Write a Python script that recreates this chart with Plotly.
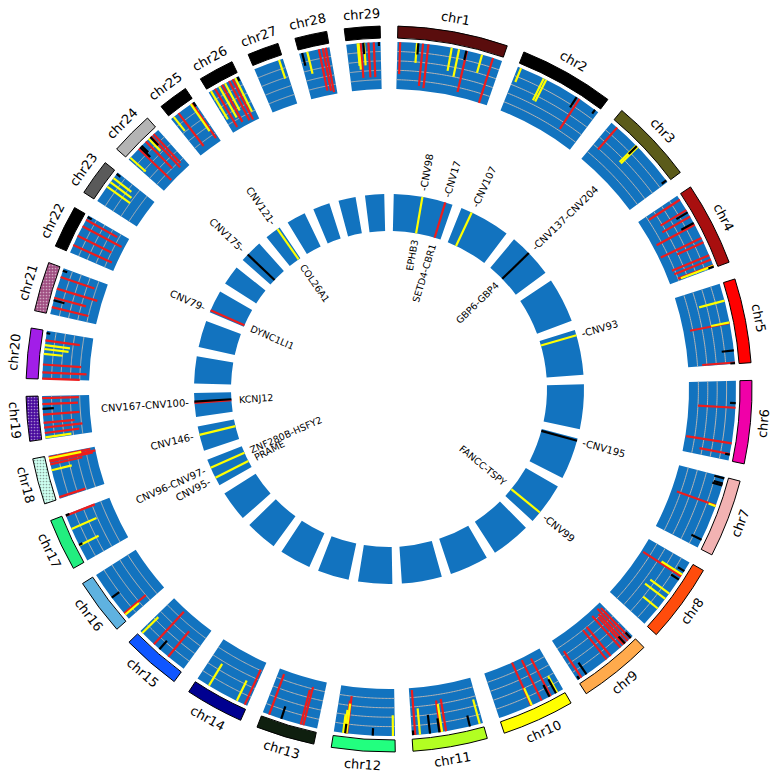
import numpy as np
import plotly.graph_objects as go

# ---------------- data ----------------
chrom_names = ['chr%d' % i for i in range(1, 30)]
chrom_len = [158, 137, 121, 120, 121, 119, 112, 113, 105, 104, 107, 91, 84, 84, 85,
             81, 75, 66, 64, 72, 71, 61, 52, 62, 43, 51, 45, 46, 51]
ideo_colors = ['#5a0d0d', '#000000', '#5b5b1a', '#a80f0f', '#ff0000', '#f000a8', '#f2b2b2',
               '#ff4c0c', '#ffaa4c', '#ffff00', '#b2ff22', '#22ff7f', '#0f1f0f', '#000090',
               '#0f56ff', '#5fb2e0', '#22ee7f', '#ccfff0', '#4a0c9e', '#a21ee8', '#a04f82',
               '#000000', '#5a5a5a', '#b4b4b4', '#000000', '#000000', '#000000', '#000000',
               '#000000']
ideo_dot_color = ['', '', '', '', '', '', '', '', '', '', '', '', '', '', '', '', '',
                  '#60c0a0', '#9060d0', '', '#c080a0', '', '', '', '', '', '', '', '']

# CNV marks in the middle track: chromosome, position (Mb), inner end (0-5 scale), colour
mark_chr = ([1]*11 + [2]*6 + [3]*5 + [4]*13 + [5]*6 + [6]*5 + [7]*6 + [8]*7 + [9]*12 +
            [10]*7 + [11]*10 + [12]*8 + [13]*4 + [14]*3 + [15]*4 + [16]*3 + [17]*5 +
            [18]*7 + [19]*8 + [20]*8 + [21]*6 + [22]*5 + [23]*4 + [24]*9 + [25]*5 +
            [26]*9 + [27]*1 + [28]*5 + [29]*8)
mark_pos = [4, 29, 31, 38, 46, 81, 92, 103, 104, 127, 144,
            5, 42, 46, 98, 103, 131,
            11, 50, 53, 51, 118,
            7, 25, 29, 36, 47, 50, 72, 79, 100, 107, 116, 117, 118,
            26, 59, 60, 101, 119, 120,
            33, 40, 93, 109, 110,
            2, 10, 13, 44, 45, 99,
            15, 21, 24, 30, 55, 65, 83,
            4, 5, 10, 15, 16, 19, 25, 44, 52, 89, 98, 102,
            10, 12, 21, 23, 36, 52, 53,
            5, 20, 56, 62, 64, 66, 80, 95, 102, 105,
            3, 33, 71, 72, 73, 74, 75, 77,
            21, 25, 55, 74,
            4, 17, 64,
            29, 46, 57, 81,
            8, 10.5, 40,
            25, 26, 52, 73.5, 74,
            2.6, 44, 53, 57, 59.5, 62, 63.5,
            2.5, 9, 17, 24, 36.5, 45, 52, 61,
            0.5, 10, 21.6, 37.4, 44.6, 50.4, 57.6, 68.4,
            10.6, 21, 25, 39, 57, 67,
            12, 27, 43, 54, 58.5,
            26, 34, 41.6, 49.4,
            3.7, 22, 25, 28, 37, 43, 46.5, 48, 53,
            5, 14, 36.5, 38.7, 41,
            4, 11, 18, 23, 28, 34.7, 40.8, 45, 48.5,
            39,
            4.6, 12.4, 30, 36, 40.5,
            17, 18.4, 21.4, 25.5, 26.5, 33, 41, 48.5]
mark_low = [1.6, 2.9, 3.8, 0.5, 0.3, 2.5, 2.0, 4.0, 0.5, 3.0, 0.0,
            3.4, 2.4, 2.4, 3.7, 1.2, 4.5,
            1.9, 2.5, 2.5, 3.8, 4.4,
            1.1, 1.8, 3.6, 1.6, 3.5, 0.4, 0.2, 1.9, 0.7, 0.8, 1.0, 1.3, 4.4,
            2.2, 3.0, 0.7, 3.7, 1.5, 4.5,
            4.4, 1.0, 0.1, 1.7, 4.5,
            3.9, 4.0, 3.9, 0.6, 4.2, 3.8,
            4.2, 2.4, 0.2, 4.0, 2.5, 2.3, 3.0,
            4.2, 0.5, 0.3, 0.8, 4.0, 1.0, 0.5, 1.0, 1.0, 3.5, 1.6, 4.6,
            3.0, 3.3, 0.5, 3.6, 0.2, 3.0, 0.0,
            2.3, 3.8, 1.5, 2.0, 1.6, 3.5, 3.0, 2.2, 0.2, 4.5,
            2.8, 4.2, 1.0, 1.8, 1.5, 4.0, 2.5, 3.0,
            0.8, 1.2, 3.6, 0.4,
            0.9, 2.6, 2.3,
            1.5, 3.8, 0.3, 2.6,
            3.1, 2.0, 4.0,
            2.7, 4.6, 2.1, 1.7, 4.6,
            2.1, 2.8, 1.5, 0.3, 0.0, 1.5, 0.5,
            2.2, 1.3, 0.9, 1.7, 1.1, 3.8, 1.2, 1.1,
            1.0, 0.3, 0.9, 3.0, 2.4, 2.3, 1.3, 4.6,
            1.0, 3.8, 1.5, 0.5, 1.2, 4.5,
            0.5, 1.0, 0.3, 1.2, 4.5,
            2.0, 2.2, 2.6, 4.5,
            2.8, 0.2, 3.5, 4.0, 1.0, 3.2, 3.8, 0.5, 0.8,
            3.1, 0.6, 1.5, 0.5, 4.5,
            1.5, 0.3, 1.2, 0.5, 1.7, 0.3, 0.2, 1.0, 4.5,
            2.9,
            3.6, 2.6, 0.5, 0.4, 0.2,
            2.6, 2.2, 1.3, 3.8, 2.6, 1.3, 1.3, 4.6]
mark_col = (list('rykrryykryr') + list('yyykrk') + list('ryykk') + list('rrkrkrrrrrryk') +
            list('yyrkrk') + list('krrrk') + list('kkkryk') + list('kyrkyyy') +
            list('krrrkrrrrkrk') + list('ykrkryr') + list('ykryrkkyrk') + list('ykryrkyy') +
            list('rrkr') + list('ryy') + list('rkry') + list('yrk') + list('ykyrk') +
            list('ryrrryr') + list('yrrrrkrr') + list('rrryyyrk') + list('rkrrrk') +
            list('rrrrk') + list('yyyk') + list('yrkkrykrr') + list('yryrk') +
            list('yryryrryk') + list('y') + list('kyrrr') + list('yyrkyrrk'))

# highlighted CNVs in the inner ring
hl_chr = [1, 1, 2, 3, 5, 7, 8, 17, 17, 18, 19, 19, 22, 24, 25]
hl_pos = [76, 138, 29.5, 53, 14.8, 6, 83.5, 22.5, 52, 43.5, 41, 38, 5.5, 19.8, 36]
hl_col = list('yrykykyyyykrrky')

out_lab_chr = [1, 1, 2, 3, 5, 7, 8, 17, 17, 18, 19, 22, 24, 25]
out_lab_pos = [76, 138, 29.5, 53, 14.8, 6, 83.5, 52, 22.5, 43.5, 39.5, 5.5, 19.8, 36]
out_lab_text = ['-CNV98', '-CNV17', '-CNV107', '-CNV137-CNV204', '-CNV93', '-CNV195', '-CNV99',
                'CNV96-CNV97-', 'CNV95-', 'CNV146-', 'CNV167-CNV100-', 'CNV79-', 'CNV175-',
                'CNV121-']
in_lab_chr = [1, 1, 3, 8, 17, 17, 19, 22, 25]
in_lab_pos = [76, 138, 53, 83.5, 52, 22.5, 39.5, 5.5, 36]
in_lab_text = ['EPHB3', 'SETD4-CBR1', 'GBP6-GBP4', 'FANCC-TSPY', 'ZNF280B-HSFY2', 'PRAME',
               'KCNJ12', 'DYNC1LI1', 'COL26A1']

# ---------------- layout helpers ----------------
GAP = 2.8
START = GAP / 2
deg_per_mb = (360 - GAP * len(chrom_len)) / sum(chrom_len)
chr_start = []
_a = START
for L in chrom_len:
    chr_start.append(_a)
    _a += L * deg_per_mb + GAP
chr_span = [L * deg_per_mb for L in chrom_len]
chr_mid = [s + w / 2 for s, w in zip(chr_start, chr_span)]


def ang(c, pos):
    return chr_start[c - 1] + pos * deg_per_mb


R_IDEO = (351, 363)
R_TRACK = (300, 347)
R_INNER = (158, 195)
W = 778
CR = W / 2   # polar radius in px (1 px per radial unit)

COLS = {'r': '#ee1c1c', 'y': '#ffff00', 'k': '#000000'}
BLUE = '#1273bf'

fig = go.Figure()

# ideogram
fig.add_trace(go.Barpolar(
    theta=chr_mid, width=chr_span, base=R_IDEO[0], r=[R_IDEO[1] - R_IDEO[0]] * 29,
    marker=dict(color=ideo_colors, line=dict(color='#000000', width=1),
                pattern=dict(shape=['.' if c else '' for c in ideo_dot_color],
                             fgcolor=[c if c else '#000000' for c in ideo_dot_color],
                             size=3, solidity=0.25)),
    hoverinfo='skip'))
# middle track
fig.add_trace(go.Barpolar(
    theta=chr_mid, width=chr_span, base=R_TRACK[0], r=[R_TRACK[1] - R_TRACK[0]] * 29,
    marker=dict(color=BLUE, line=dict(width=0)), hoverinfo='skip'))
# inner ring
fig.add_trace(go.Barpolar(
    theta=chr_mid, width=chr_span, base=R_INNER[0], r=[R_INNER[1] - R_INNER[0]] * 29,
    marker=dict(color=BLUE, line=dict(width=0)), hoverinfo='skip'))

# grid arcs in track
gt, gr = [], []
for i in range(29):
    th = np.linspace(chr_start[i], chr_start[i] + chr_span[i], 40)
    for lv in range(1, 5):
        rr = R_TRACK[0] + lv * (R_TRACK[1] - R_TRACK[0]) / 5
        gt += list(th) + [None]
        gr += [rr] * len(th) + [None]
fig.add_trace(go.Scatterpolar(theta=gt, r=gr, mode='lines',
                              line=dict(color='#b4b4b4', width=1), hoverinfo='skip'))


def lvl(v):
    return R_TRACK[0] + v * (R_TRACK[1] - R_TRACK[0]) / 5


for code in ['r', 'y', 'k']:
    tt, rr = [], []
    for c, p, lo, col in zip(mark_chr, mark_pos, mark_low, mark_col):
        if col != code:
            continue
        a = ang(c, p)
        tt += [a, a, None]
        rr += [R_TRACK[1], lvl(lo), None]
    fig.add_trace(go.Scatterpolar(theta=tt, r=rr, mode='lines',
                                  line=dict(color=COLS[code], width=2.2), hoverinfo='skip'))

# inner highlighted lines
for code in ['r', 'y', 'k']:
    tt, rr = [], []
    for c, p, col in zip(hl_chr, hl_pos, hl_col):
        if col != code:
            continue
        a = ang(c, p)
        tt += [a, a, None]
        rr += [R_INNER[0], R_INNER[1], None]
    fig.add_trace(go.Scatterpolar(theta=tt, r=rr, mode='lines',
                                  line=dict(color=COLS[code], width=2.2), hoverinfo='skip'))

# ---------------- text ----------------
CW = {'A': .684, 'B': .686, 'C': .698, 'D': .77, 'E': .632, 'F': .575, 'G': .775, 'H': .752,
      'I': .295, 'J': .295, 'K': .656, 'L': .557, 'M': .863, 'N': .748, 'O': .787, 'P': .603,
      'R': .695, 'S': .635, 'T': .611, 'V': .684, 'Y': .611, 'Z': .685, '-': .361}


def text_w(s, size):
    return sum(CW.get(ch, .636) for ch in s) * size


def to_paper(r, th):
    t = np.radians(th)
    px = CR + r * np.sin(t)
    py = CR - r * np.cos(t)
    return px / W, 1 - py / W


def norm(a):
    while a > 180:
        a -= 360
    while a <= -180:
        a += 360
    return a


FONT = 'DejaVu Sans'
ann = []
for i, name in enumerate(chrom_names):
    th = chr_mid[i]
    x, y = to_paper(376, th)
    ta = th - 180 if 90 < th < 270 else th
    ann.append(dict(x=x, y=y, xref='paper', yref='paper', text=name, showarrow=False,
                    textangle=norm(ta), font=dict(family=FONT, size=13, color='#000000'),
                    xanchor='center', yanchor='middle'))

for c, p, s in zip(out_lab_chr, out_lab_pos, out_lab_text):
    th = ang(c, p)
    w = text_w(s, 10)
    x, y = to_paper(201 + w / 2, th)
    ta = th - 90 if th < 180 else th - 270
    ann.append(dict(x=x, y=y, xref='paper', yref='paper', text=s, showarrow=False,
                    textangle=norm(ta), font=dict(family=FONT, size=10, color='#000000'),
                    xanchor='center', yanchor='middle'))

for c, p, s in zip(in_lab_chr, in_lab_pos, in_lab_text):
    th = ang(c, p)
    w = text_w(s, 9.5)
    x, y = to_paper(151 - w / 2, th)
    ta = th - 90 if th < 180 else th - 270
    ann.append(dict(x=x, y=y, xref='paper', yref='paper', text=s, showarrow=False,
                    textangle=norm(ta), font=dict(family=FONT, size=9.5, color='#000000'),
                    xanchor='center', yanchor='middle'))

fig.update_layout(
    width=W, height=W, margin=dict(l=0, r=0, t=0, b=0),
    paper_bgcolor='white', plot_bgcolor='white', showlegend=False,
    annotations=ann,
    polar=dict(domain=dict(x=[0, 1], y=[0, 1]), bgcolor='white', hole=0,
               barmode='overlay', bargap=0,
               radialaxis=dict(range=[0, CR], visible=False, showgrid=False),
               angularaxis=dict(direction='clockwise', rotation=90, visible=False,
                                showgrid=False)),
)
# place the 778x778 figure at the page's top-left corner (no default body margin)
fig.write_html('out.html', config={'displayModeBar': False},
               post_script="document.body.style.margin='0px';")
